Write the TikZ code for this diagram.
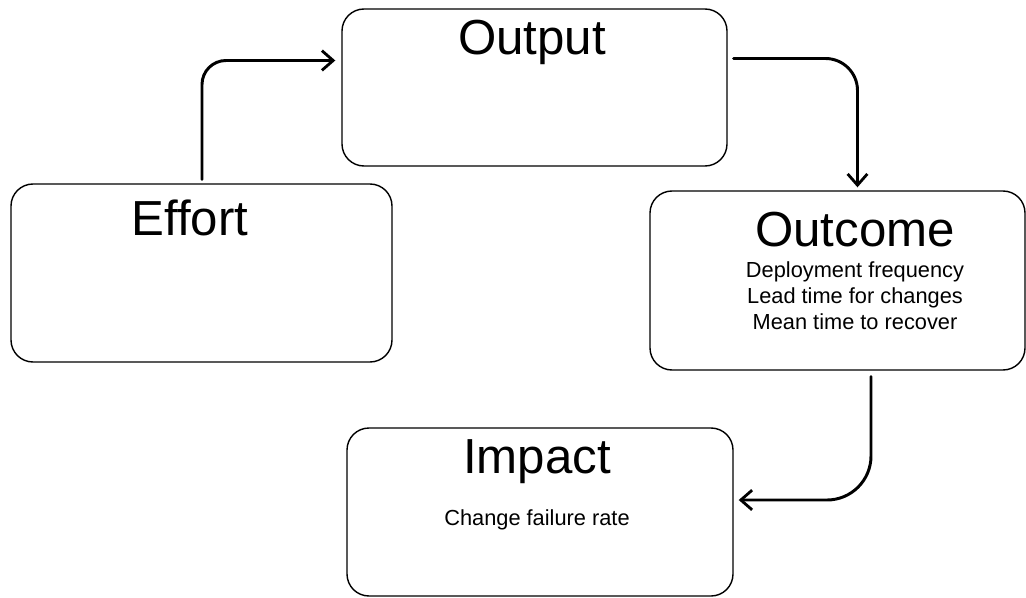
\documentclass[tikz,border=0pt]{standalone}
\usepackage{fontspec}
\setmainfont{Liberation Sans}
\usetikzlibrary{arrows.meta,calc,positioning}
\begin{document}
\begin{tikzpicture}[x=0.025cm, y=-0.025cm,
  box/.style={draw, line width=1pt, rounded corners=0.55cm, inner sep=0pt},
  title/.style={font=\fontsize{35}{40}\selectfont},
  body/.style={font=\fontsize{15.5}{18.5}\selectfont, align=center},
  flow/.style={line width=2.1pt, line cap=round, -{Straight Barb[length=8pt,width=14pt,line width=2pt]}}]
\useasboundingbox (0,0) rectangle (1026,598);
\node[box, minimum width=385*0.025cm, minimum height=157*0.025cm] (output) at (534.5,87.5){};
\node[box, minimum width=381*0.025cm, minimum height=178*0.025cm] (effort) at (201.5,273){};
\node[box, minimum width=375*0.025cm, minimum height=179*0.025cm] (outcome) at (837.5,280.5){};
\node[box, minimum width=386*0.025cm, minimum height=168*0.025cm] (impact) at (540,512){};
\node[title] (outputtitle) at (532,42){Output};
\node[title] (efforttitle) at (190,218){Effort};
\node[title] (outcometitle) at (855,230){Outcome};
\node[title] (impacttitle) at (537,462){Impact};
\node[body] (outcomebody) at (855,296){Deployment frequency\\Lead time for changes\\Mean time to recover};
\node[body] (impactbody) at (537,520){Change failure rate};
\coordinate (effortout) at ($(effort.north)+(0.5,-4)$);
\coordinate (outputin) at ($(output.west)+(-6,-27)$);
\coordinate (outputout) at ($(output.east)+(6,-29)$);
\coordinate (outcomein) at ($(outcome.north)+(20,-3)$);
\coordinate (outcomeout) at ($(outcome.south)+(33.5,6)$);
\coordinate (impactin) at ($(impact.east)+(5,-12)$);
\draw[flow, rounded corners=0.6cm] (effortout) |- (outputin);
\draw[flow, rounded corners=0.8cm] (outputout) -| (outcomein);
\draw[flow, rounded corners=1.1cm] (outcomeout) |- (impactin);
\end{tikzpicture}
\end{document}
